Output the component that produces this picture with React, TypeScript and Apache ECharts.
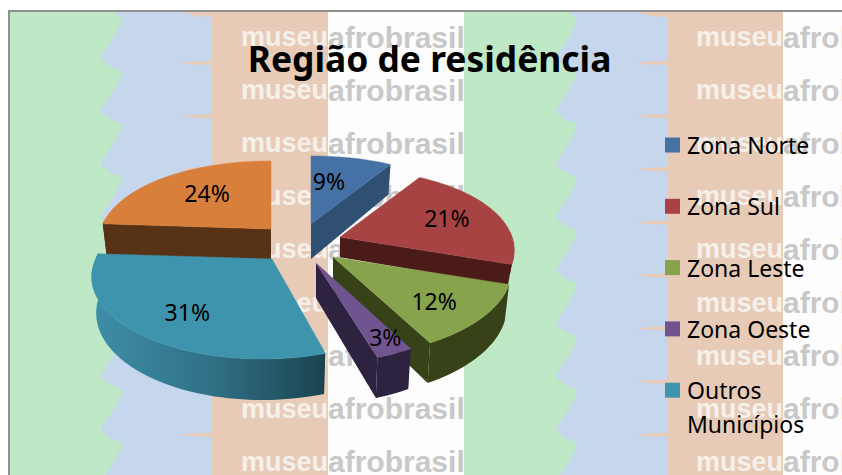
import React, { useEffect, useRef } from "react";
import * as echarts from "echarts";

// ---- data ----
const chartTitle = "Região de residência";
const sliceNames = ["Zona Norte", "Zona Sul", "Zona Leste", "Zona Oeste", "Outros Municípios", "Sem legenda"];
const sliceValues = [9, 21, 12, 3, 31, 24];
const legendNames = ["Zona Norte", "Zona Sul", "Zona Leste", "Zona Oeste", "Outros Municípios"];

// ---- layout and style ----
const W = 842;
const H = 475;
const FONT = "'Noto Sans', sans-serif";
const centre = [290, 245];
const explode = [[21, -21], [50, -8], [43, 12], [26, 18], [-18, 14], [-19, -16]];
const topColors = ["#4571A5", "#A74342", "#87A34B", "#705490", "#3F94AD", "#D87F3B"];
const sideColors = ["#2F4F73", "#4A1B19", "#384218", "#2D2240", "#2F6F85", "#573215"];
const labelRadius = [0.52, 0.64, 0.72, 0.86, 0.72, 0.55];
const labelShift = [[-5, -5], [7, -2], [-4, 2], [3, -2], [6, 0], [-4, -5]];
const sliceScale = [1, 1, 1.025, 1, 1.025, 0.99];
const sliceShear = [0, 0, 0, 0, -10, 0];
const depthScale = [1, 0.58, 1, 1, 1, 1];
const drawOrder = [5, 0, 1, 2, 4, 3];
const RX = 172, RX_P = 28, RY = 84, RY_P = 0.19, DEPTH = 35, DEPTH_P = 6, BOTTOM_SCALE = 0.975;

const total = sliceValues.reduce((a, b) => a + b, 0);
const rad = (d: number) => (d * Math.PI) / 180;

function project(i: number, deg: number, r: number): number[] {
  const u = r * Math.sin(rad(deg));
  const v = -r * Math.cos(rad(deg));
  const ax = centre[0] + explode[i][0];
  const ay = centre[1] + explode[i][1];
  return [ax + u * (RX + RX_P * v) * sliceScale[i] + sliceShear[i] * Math.max(v, 0), ay + v * RY * (1 + RY_P * v)];
}
function down(i: number, p: number[], v: number): number[] {
  const ax = centre[0] + explode[i][0];
  return [ax + (p[0] - ax) * BOTTOM_SCALE, p[1] + (DEPTH + DEPTH_P * v) * depthScale[i]];
}
function arc(i: number, a: number, b: number): number[][] {
  const pts: number[][] = [];
  const n = Math.max(2, Math.ceil((b - a) / 2));
  for (let k = 0; k <= n; k++) pts.push(project(i, a + ((b - a) * k) / n, 1));
  return pts;
}
function lowered(i: number, a: number, b: number): number[][] {
  const pts: number[][] = [];
  const n = Math.max(2, Math.ceil((b - a) / 2));
  for (let k = 0; k <= n; k++) {
    const d = a + ((b - a) * k) / n;
    pts.push(down(i, project(i, d, 1), -Math.cos(rad(d))));
  }
  return pts;
}

function renderSlice(i: number, startDeg: number) {
  return (_params: any, api: any) => {
    const value = api.value(0);
    const endDeg = startDeg + (value / total) * 360;
    const apex = project(i, 0, 0);
    const apexLow = down(i, apex, 0);
    const children: any[] = [];
    const face = (points: number[][], fill: any) =>
      children.push({ type: "polygon", shape: { points }, style: { fill, stroke: fill === topColors[i] ? fill : undefined, lineWidth: 0.5 }, silent: true });
    const radial = (deg: number) => {
      const p = project(i, deg, 1);
      face([apex, p, down(i, p, -Math.cos(rad(deg))), apexLow], sideColors[i]);
    };
    if (Math.sin(rad(startDeg)) < -1e-6) radial(startDeg);
    if (Math.sin(rad(endDeg)) > 1e-6) radial(endDeg);
    const wa = Math.max(startDeg, 86);
    const wb = Math.min(endDeg, 276);
    if (wb > wa) {
      const fill = i === 4
        ? new echarts.graphic.LinearGradient(0, 0, 1, 0, [
            { offset: 0, color: "#3E8FA8" },
            { offset: 0.55, color: "#2F6E83" },
            { offset: 1, color: "#1B434F" },
          ])
        : sideColors[i];
      face(arc(i, wa, wb).concat(lowered(i, wa, wb).reverse()), fill);
    }
    face([apex].concat(arc(i, startDeg, endDeg)), topColors[i]);
    const mid = (startDeg + endDeg) / 2;
    const lp = project(i, mid, labelRadius[i]);
    children.push({
      type: "text",
      z2: 50,
      silent: true,
      style: {
        text: `${value}%`,
        x: lp[0] + labelShift[i][0],
        y: lp[1] + labelShift[i][1],
        align: "center",
        verticalAlign: "middle",
        fill: "#000",
        font: `23px ${FONT}`,
      },
    });
    return { type: "group", children };
  };
}

// ---- background ----
const TILE = 455;
const ROW = 53.1;
function backgroundElements(): any[] {
  const out: any[] = [];
  out.push({ type: "rect", shape: { x: 9, y: 11, width: W - 9, height: H - 11 }, style: { fill: "#FDFDFD" }, z: 0 });
  for (let t = 0; t < 2; t++) {
    const dx = t * TILE;
    out.push({ type: "rect", shape: { x: 170 + dx, y: 11, width: 158, height: H - 11 }, style: { fill: "#E8CBB7" }, z: 0 });
    // blue band, its right edge notched by thin peach fingers
    const blue: number[][] = [[100 + dx, 11], [180 + dx, 11], [196 + dx, 16], [212 + dx, 17]];
    for (let r = 1; r < 10; r++) {
      const y0 = 10 + r * ROW;
      blue.push([212 + dx, y0 - 2], [196 + dx, y0 - 1.5], [178 + dx, y0], [196 + dx, y0 + 1.5], [212 + dx, y0 + 2]);
    }
    blue.push([100 + dx, 10 + 10 * ROW]);
    out.push({ type: "polygon", shape: { points: blue }, style: { fill: "#C6D6EC" }, z: 0 });
    // wavy green band
    const green: number[][] = [[9 + dx, 11], [113 + dx, 11]];
    for (let r = 0; r < 10; r++) {
      const y0 = 20 + r * ROW;
      green.push(
        [120 + dx, y0 - 3], [122 + dx, y0], [120 + dx, y0 + 5], [116 + dx, y0 + 14], [108 + dx, y0 + 26],
        [102 + dx, y0 + 35], [101 + dx, y0 + 38], [103 + dx, y0 + 41], [112 + dx, y0 + 47]
      );
    }
    green.push([9 + dx, 20 + 10 * ROW]);
    out.push({ type: "polygon", shape: { points: green }, style: { fill: "#BEE8C6" }, z: 0 });
    for (let r = 0; r < 9; r++) {
      const y = 37 + r * ROW;
      out.push({ type: "text", silent: true, z: 0, style: { text: "museu", x: 328 + dx, y, align: "right", verticalAlign: "middle", fill: "#F6F0EA", font: "bold 27px 'Liberation Sans', sans-serif" } });
      out.push({ type: "text", silent: true, z: 0, style: { text: "afrobrasil", x: 328 + dx, y, align: "left", verticalAlign: "middle", fill: "#C8C8C8", font: "bold 30px 'Liberation Sans', sans-serif" } });
    }
  }
  // chart frame
  out.push({ type: "rect", shape: { x: 8, y: 10, width: 2, height: H - 10 }, style: { fill: "#909090" }, z: 0 });
  out.push({ type: "rect", shape: { x: 8, y: 10, width: W - 8, height: 2 }, style: { fill: "#909090" }, z: 0 });
  // second line of the last legend entry
  out.push({ type: "text", silent: true, z: 10, style: { text: "Municípios", x: 687, y: 424, align: "left", verticalAlign: "middle", fill: "#000", font: `23px ${FONT}` } });
  return out;
}

function buildOption() {
  const starts: number[] = [];
  let acc = 0;
  sliceValues.forEach((v) => {
    starts.push(acc);
    acc += (v / total) * 360;
  });
  return {
    animation: false,
    title: {
      text: chartTitle,
      left: 424.5,
      top: 35,
      textAlign: "center",
      textStyle: { fontFamily: FONT, fontWeight: "bold", fontSize: 35.4, color: "#000" },
    },
    legend: {
      orient: "vertical",
      left: 660,
      top: 125,
      icon: "rect",
      itemWidth: 15,
      itemHeight: 15,
      itemGap: 31.3,
      selectedMode: false,
      data: legendNames,
      formatter: (n: string) => (n.split(" ")[0] === "Outros" ? "Outros" : n),
      textStyle: { fontFamily: FONT, fontSize: 23, color: "#000", lineHeight: 30, padding: [0, 0, 0, 2] },
    },
    graphic: { elements: backgroundElements() },
    series: drawOrder.map((i) => ({
      type: "custom",
      name: sliceNames[i],
      coordinateSystem: "none",
      itemStyle: { color: topColors[i] },
      renderItem: renderSlice(i, starts[i]),
      data: [[sliceValues[i]]],
      silent: true,
    })),
  };
}

export default function App() {
  const ref = useRef<HTMLDivElement>(null);
  useEffect(() => {
    const chart = echarts.init(ref.current!, undefined, { renderer: "svg" });
    chart.setOption(buildOption() as any);
    return () => chart.dispose();
  }, []);
  return <div ref={ref} style={{ position: "fixed", left: 0, top: 0, width: W, height: H, background: "#fff" }} />;
}
